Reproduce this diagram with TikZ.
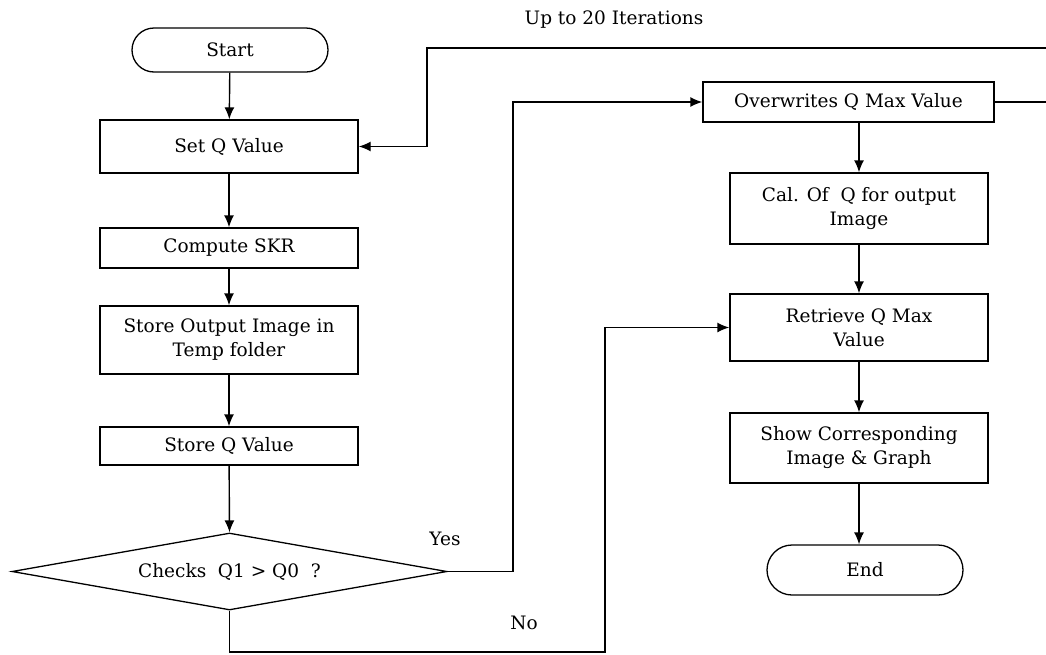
\documentclass[tikz,border=0pt]{standalone}
\usepackage{fontspec}
\setmainfont{DejaVu Serif}
\usetikzlibrary{arrows.meta,shapes.geometric,calc}
\begin{document}
\begin{tikzpicture}[x=1pt,y=-1pt,
  every node/.style={font=\fontsize{18.5}{24}\selectfont},
  box/.style={draw,line width=1.4pt,minimum width=258pt,align=center,inner sep=2pt},
  term/.style={draw,line width=1.3pt,rounded corners=22pt,minimum height=44pt},
  dec/.style={draw,line width=1.3pt,diamond,shape aspect=5.65,minimum width=435pt,minimum height=77pt,inner sep=0pt},
  conn/.style={line width=1.4pt},
  arr/.style={conn,-{Latex[length=12pt,width=10pt]}},
  lbl/.style={inner sep=0pt}]
\useasboundingbox (0,0) rectangle (1046,654);
\fill[white] (0,0) rectangle (1046,654);
% left column
\node[term,minimum width=196pt] (start) at (230,50) {Start};
\node[box,minimum height=53pt] (setq) at (229,146.5) {Set Q Value};
\node[box,minimum height=40pt] (skr) at (229,248) {Compute SKR};
\node[box,minimum height=68pt] (store) at (229,340) {Store Output Image in\\Temp folder};
\node[box,minimum height=38pt] (storeq) at (229,446) {Store Q Value};
\node[dec] (check) at (229.5,571.5) {Checks\ \ Q1 > Q0\ \ ?};
% right column
\node[box,minimum width=291pt,minimum height=40pt] (over) at (848.5,102) {Overwrites Q Max Value};
\node[box,minimum height=71pt] (cal) at (859,208.5) {Cal. Of\ \ Q for output\\Image};
\node[box,minimum height=67pt] (ret) at (859,327.5) {Retrieve Q Max\\Value};
\node[box,minimum height=70pt] (show) at (859,448) {Show Corresponding\\Image \& Graph};
\node[term,minimum width=196pt,minimum height=50pt,rounded corners=25pt] (end) at (865,570) {End};
% labels
\node[lbl] (iter) at (614,20) {Up to 20 Iterations};
\node[lbl] (yes) at (445,539) {Yes};
\node[lbl] (no) at (524,623) {No};
% helper coordinates
\coordinate (topR) at (1046,48);
\coordinate (topL) at (427,48);
\coordinate (yesC) at (513,102);
\coordinate (noB) at (229.5,652);
\coordinate (noC) at (605,652);
\coordinate (overR) at (1046,102);
% connectors
\draw[arr] (start) -- (setq);
\draw[arr] (setq) -- (skr);
\draw[arr] (skr) -- (store);
\draw[arr] (store) -- (storeq);
\draw[arr] (storeq) -- (check.north);
\draw[arr] (check.east) -| (yesC) -- (over.west);
\draw[arr] (check.south) -- (noB) -- (noC) |- (ret.west);
\draw[arr] (topR) -- (topL) |- (setq.east);
\draw[conn] (over.east) -- (overR);
\draw[arr] (cal.north |- over.south) -- (cal.north);
\draw[arr] (cal) -- (ret);
\draw[arr] (ret) -- (show);
\draw[arr] (show.south) -- (show.south |- end.north);
\end{tikzpicture}
\end{document}
